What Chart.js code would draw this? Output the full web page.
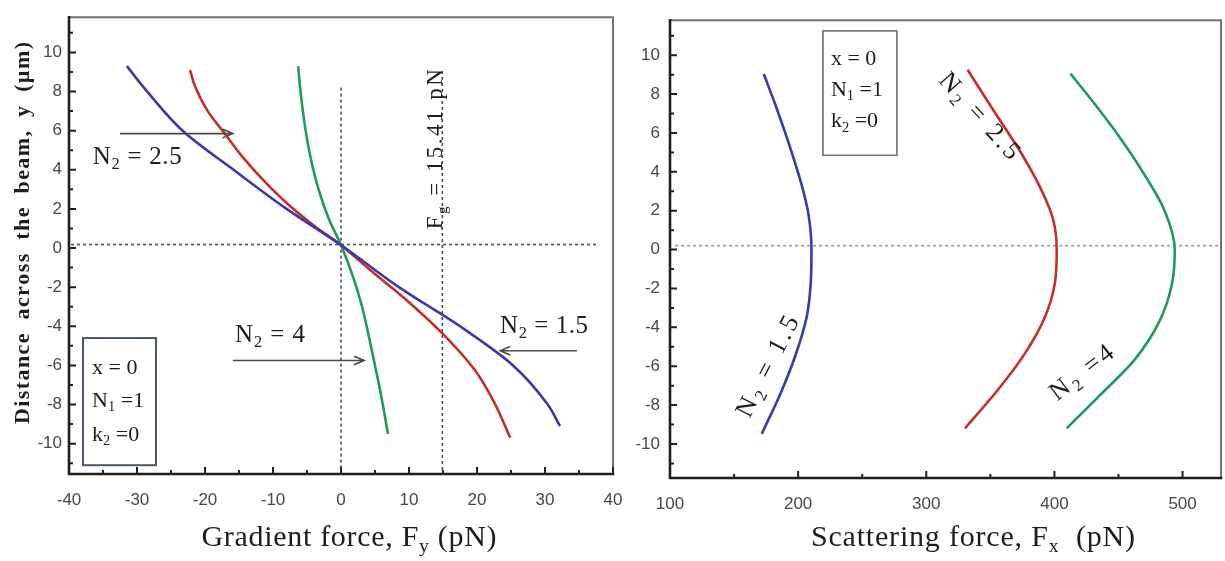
<!DOCTYPE html>
<html><head><meta charset="utf-8">
<script src="https://cdn.jsdelivr.net/npm/chart.js@4.4.1/dist/chart.umd.min.js"></script>
<style>
html,body{margin:0;padding:0;background:#fff;overflow:hidden}
#wrap{position:relative;width:1225px;height:561px;background:#fff}
canvas{position:absolute;left:0;top:0}
</style></head><body>
<div id="wrap"><canvas id="c1" width="1225" height="561"></canvas><canvas id="c2" width="1225" height="561"></canvas></div>
<script>
// ---------- tick values ----------
const gradTicksX = [-40,-30,-20,-10,0,10,20,30,40];
const gradMinorX = [-35,-25,-15,-5,5,15,25,35];
const distTicks  = [-10,-8,-6,-4,-2,0,2,4,6,8,10];
const distMinor  = [-11,-9,-7,-5,-3,-1,1,3,5,7,9,11];
const scatTicksX = [100,200,300,400,500];
const scatMinorX = [150,250,350,450];

// ---------- left panel: gradient force Fy (pN) vs distance y (um) ----------
const gradY_N15  = [9.3,8.0,6.0,4.0,2.0,0.15,-2.0,-4.0,-6.0,-8.0,-9.1];
const gradFy_N15 = [-31.5,-28.5,-23.3,-15.8,-8.0,0,8.5,17.5,25.3,30.4,32.2];
const gradY_N25  = [9.1,8.3,7.0,5.9,4.75,3.5,2.15,1.1,0.15,-1.1,-2.68,-4.5,-6.2,-7.8,-9.7];
const gradFy_N25 = [-22.2,-21.5,-19.6,-17.2,-14.7,-11.5,-7.5,-3.8,0,4.2,9.7,15.3,19.6,22.4,24.9];
const gradY_N4   = [9.3,8.0,6.0,4.5,3.0,1.5,0.15,-1.5,-3.0,-4.6,-6.0,-7.8,-9.5];
const gradFy_N4  = [-6.3,-5.95,-5.2,-4.4,-3.3,-1.8,0,1.8,3.1,4.15,5.0,6.05,6.9];
// reference dashed lines (left)
const gradRefH_F = [-39.7,37.6], gradRefH_Y = [0.18,0.18];
const gradRef0_F = [0,0],        gradRef0_Y = [8.2,-11.55];
const gradRefG_F = [14.9,14.9],  gradRefG_Y = [9.05,-11.55];

// ---------- right panel: scattering force Fx (pN) vs distance y (um) ----------
const scatY      = [9.03,7.44,5.1,3.1,1.76,0,-1.75,-3.45,-5.5,-7.36,-9.48];
const scatFx_N15 = [173.2,182.3,194.5,203.7,208.2,210.4,209.8,206.7,197.6,186.5,171.6];
const scatY_N25  = [9.25,7.1,4.93,3.1,1.6,0,-1.75,-3.45,-5.3,-7.2,-9.2];
const scatFx_N25 = [332.3,353.0,374.4,389.6,398.8,401.8,400.3,392.7,377.4,356.1,330.2];
const scatY_N4   = [9.05,8.0,6.0,4.0,2.0,0,-1.75,-3.6,-5.65,-7.5,-9.2];
const scatFx_N4  = [412.5,425.3,448.5,468.9,486.0,493.9,491.8,482.6,462.8,435.4,409.5];
const scatRefH_F = [104,530], scatRefH_Y = [0.2,0.2];

// ---------- styling ----------
const SERIF = '"Liberation Serif", "Times New Roman", serif';
const SANS  = '"Liberation Sans", Arial, sans-serif';
const BLUE = '#3a3aa8', RED = '#c62e2e', GREEN = '#1f9a5e';

function pts(xs, ys){ return xs.map((v,i)=>({x:v, y:ys[i]})); }
function curve(data,color){ return {data, borderColor:color, borderWidth:2.6, pointRadius:0, cubicInterpolationMode:'monotone', fill:false}; }
function ref(data,color){ return {data, borderColor:color, borderWidth:1.6, borderDash:[3,3], pointRadius:0, tension:0, cubicInterpolationMode:'default', fill:false}; }

function drawRich(ctx, t){
  const w8 = t.bold ? 'bold ' : '';
  const chars = [];
  for (const s of t.segs){
    const sub = s[1]==='sub';
    const sz = sub ? t.size*0.66 : t.size;
    for (const ch of s[0]) chars.push({ch, sz, sub});
  }
  let W = 0;
  for (const c of chars){ ctx.font = w8 + c.sz.toFixed(1) + 'px ' + SERIF; c.w = ctx.measureText(c.ch).width; W += c.w; }
  let ls = t.ls || 0, ws = 0;
  const nSp = chars.filter(c=>c.ch===' ').length;
  if (t.len){
    if (t.wordFit && nSp) ws = (t.len - W - ls*(chars.length-1))/nSp;
    else ls = (t.len - W)/(chars.length-1);
  }
  const total = W + ls*(chars.length-1) + ws*nSp;
  ctx.save();
  ctx.translate(t.x, t.y);
  if (t.rot) ctx.rotate(t.rot*Math.PI/180);
  ctx.fillStyle = t.color || '#1c1c1c';
  ctx.textBaseline = 'alphabetic'; ctx.textAlign = 'left';
  let cx = t.align==='center' ? -total/2 : 0;
  const dy = t.vmid ? t.size*0.32 : 0;
  for (const c of chars){
    ctx.font = w8 + c.sz.toFixed(1) + 'px ' + SERIF;
    ctx.fillText(c.ch, cx, dy + (c.sub ? t.size*0.2 : 0));
    cx += c.w + ls + (c.ch===' ' ? ws : 0);
  }
  ctx.restore();
}

function arrow(ctx, x1,y1,x2,y2){
  ctx.save(); ctx.strokeStyle='#4a4a4a'; ctx.lineWidth=1.6;
  ctx.beginPath(); ctx.moveTo(x1,y1); ctx.lineTo(x2,y2);
  const a = Math.atan2(y2-y1, x2-x1), L = 11, s = 0.4;
  ctx.moveTo(x2 - L*Math.cos(a-s), y2 - L*Math.sin(a-s));
  ctx.lineTo(x2, y2);
  ctx.lineTo(x2 - L*Math.cos(a+s), y2 - L*Math.sin(a+s));
  ctx.stroke(); ctx.restore();
}

function makeDeco(spec){
  return {
    id: 'deco',
    afterDraw(chart){
      const ctx = chart.ctx, a = chart.chartArea, sx = chart.scales.x, sy = chart.scales.y;
      const X = v => sx.getPixelForValue(v), Y = v => sy.getPixelForValue(v);
      ctx.save();
      // frame
      ctx.lineCap = 'square';
      ctx.strokeStyle = '#727272'; ctx.lineWidth = 2;
      ctx.beginPath(); ctx.moveTo(a.left, a.top); ctx.lineTo(a.right, a.top); ctx.lineTo(a.right, a.bottom); ctx.stroke();
      ctx.strokeStyle = '#1e1e1e'; ctx.lineWidth = 2.6;
      ctx.beginPath(); ctx.moveTo(a.left, a.top); ctx.lineTo(a.left, a.bottom); ctx.lineTo(a.right, a.bottom); ctx.stroke();
      // ticks (inward)
      ctx.lineCap = 'butt'; ctx.lineWidth = 2; ctx.strokeStyle = '#1e1e1e';
      ctx.beginPath();
      spec.majorY.forEach(v=>{ const p=Y(v); ctx.moveTo(a.left, p); ctx.lineTo(a.left+7, p); });
      spec.minorY.forEach(v=>{ const p=Y(v); ctx.moveTo(a.left, p); ctx.lineTo(a.left+4, p); });
      spec.majorX.forEach(v=>{ const p=X(v); ctx.moveTo(p, a.bottom); ctx.lineTo(p, a.bottom-7); });
      spec.minorX.forEach(v=>{ const p=X(v); ctx.moveTo(p, a.bottom); ctx.lineTo(p, a.bottom-4); });
      ctx.stroke();
      // boxes
      (spec.boxes||[]).forEach(b=>{
        ctx.strokeStyle = b.color; ctx.lineWidth = b.lw;
        const x1=X(b.x1), x2=X(b.x2), y1=Y(b.y1), y2=Y(b.y2);
        ctx.strokeRect(x1, y1, x2-x1, y2-y1);
      });
      // arrows
      (spec.arrows||[]).forEach(r=>arrow(ctx, X(r[0]), Y(r[1]), X(r[2]), Y(r[3])));
      // notes (data coordinates)
      (spec.notes||[]).forEach(n=>drawRich(ctx, Object.assign({}, n, {x:X(n.x), y:Y(n.y)})));
      // titles (canvas coordinates)
      (spec.titles||[]).forEach(n=>drawRich(ctx, n));
      ctx.restore();
    }
  };
}

function makeChart(id, datasets, sc, spec){
  return new Chart(document.getElementById(id), {
    type: 'line',
    data: { datasets },
    options: {
      indexAxis: 'y',
      responsive: false, animation: false, devicePixelRatio: 1,
      layout: { padding: sc.pad },
      plugins: { legend: {display:false}, tooltip: {enabled:false} },
      scales: {
        x: { type:'linear', position:'bottom', min: sc.xmin, max: sc.xmax,
             grid:{display:false, drawTicks:false}, border:{display:false},
             ticks:{ font:{family:SANS, size:17}, color:'#474747', padding: sc.xpad, maxRotation:0 },
             afterBuildTicks: s => { s.ticks = sc.xt.map(v=>({value:v})); },
             afterFit: s => { s.height = sc.xh; } },
        y: { type:'linear', position:'left', min: sc.ymin, max: sc.ymax,
             grid:{display:false, drawTicks:false}, border:{display:false},
             ticks:{ font:{family:SANS, size:17}, color:'#474747', padding: sc.ypad },
             afterBuildTicks: s => { s.ticks = distTicks.map(v=>({value:v})); },
             afterFit: s => { s.width = sc.yw; } }
      }
    },
    plugins: [makeDeco(spec)]
  });
}

const N = n => [['N'],['2','sub'],[n]];

makeChart('c1', [
    curve(pts(gradFy_N15, gradY_N15), BLUE),
    curve(pts(gradFy_N25, gradY_N25), RED),
    curve(pts(gradFy_N4,  gradY_N4),  GREEN),
    ref(pts(gradRefH_F, gradRefH_Y), '#4e4e4e'),
    ref(pts(gradRef0_F, gradRef0_Y), '#4e4e4e'),
    ref(pts(gradRefG_F, gradRefG_Y), '#4e4e4e')
  ],
  { pad:{left:0, top:7, right:612, bottom:0}, xmin:-40, xmax:40, ymin:-11.55, ymax:11.8,
    xt: gradTicksX, xh: 87, yw: 69, xpad: 16, ypad: 7 },
  { majorX: gradTicksX, minorX: gradMinorX, majorY: distTicks, minorY: distMinor,
    boxes: [{x1:-37.94, y1:-4.6, x2:-27.21, y2:-11.1, color:'#4a5866', lw:2}],
    arrows: [[-32.5,5.85,-15.9,5.85], [-15.9,-5.75,3.4,-5.75], [34.7,-5.25,23.4,-5.25]],
    notes: [
      {segs:N(' = 2.5'), x:-36.5, y:4.3, size:25, len:89},
      {segs:N(' = 4'),   x:-15.6, y:-4.8, size:25, len:70},
      {segs:N(' = 1.5'), x:23.4,  y:-4.35, size:25, len:88},
      {segs:[['F'],['g','sub'],[' = 15.41 pN']], x:14.9, y:5.05, rot:-90, align:'center', size:23, len:160},
      {segs:[['x = 0']], x:-36.6, y:-6.45, size:22},
      {segs:[['N'],['1','sub'],[' =1']], x:-36.6, y:-8.1, size:22},
      {segs:[['k'],['2','sub'],[' =0']], x:-36.6, y:-9.85, size:22}
    ],
    titles: [
      {segs:[['Gradient force, F'],['y','sub'],[' (pN)']], x:349, y:546, size:30, align:'center', len:295},
      {segs:[['Distance across the beam, y (µm)']], x:29, y:233, rot:-90, size:22, bold:true, align:'center', len:382, ls:1.4, wordFit:true}
    ]
  });

makeChart('c2', [
    curve(pts(scatFx_N15, scatY), BLUE),
    curve(pts(scatFx_N25, scatY_N25), RED),
    curve(pts(scatFx_N4,  scatY_N4),  GREEN),
    ref(pts(scatRefH_F, scatRefH_Y), '#8e9ca8')
  ],
  { pad:{left:620, top:7, right:4, bottom:0}, xmin:100, xmax:530, ymin:-11.75, ymax:11.8,
    xt: scatTicksX, xh: 83, yw: 50, xpad: 16, ypad: 10 },
  { majorX: scatTicksX, minorX: scatMinorX, majorY: distTicks, minorY: distMinor,
    boxes: [{x1:219.4, y1:11.25, x2:277.1, y2:4.85, color:'#707070', lw:1.6}],
    notes: [
      {segs:[['x = 0']], x:225.6, y:9.5, size:22},
      {segs:[['N'],['1','sub'],[' =1']], x:225.6, y:7.9, size:22},
      {segs:[['k'],['2','sub'],[' =0']], x:225.6, y:6.3, size:22},
      {segs:N(' = 2.5'), x:342.0, y:6.9, rot:48, align:'center', vmid:true, size:26, len:108},
      {segs:N(' = 1.5'), x:175.7, y:-6.0, rot:-63, align:'center', vmid:true, size:26, len:110},
      {segs:N(' =4'),    x:421.0, y:-6.3, rot:-38, align:'center', vmid:true, size:26, len:74}
    ],
    titles: [
      {segs:[['Scattering force, F'],['x','sub'],['  (pN)']], x:973, y:546, size:30, align:'center', len:324}
    ]
  });
</script>
</body></html>
